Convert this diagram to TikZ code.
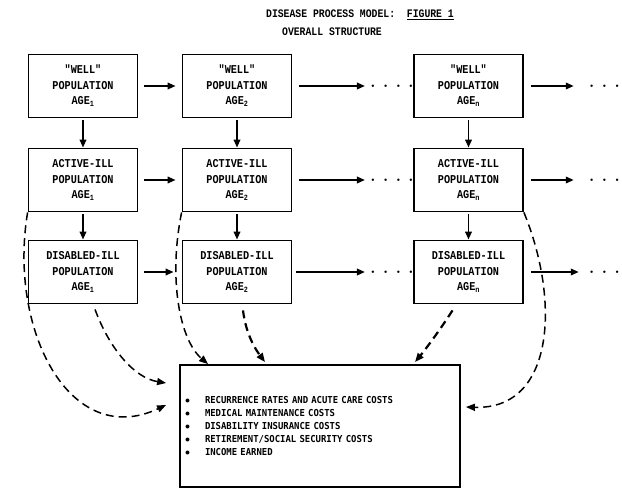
\documentclass[tikz,border=0pt]{standalone}
\usepackage{fontspec}
\usetikzlibrary{arrows.meta,positioning}
\newfontfamily\typefont[FakeStretch=0.85]{Liberation Mono}
\newfontfamily\listfont[FakeStretch=0.93]{DejaVu Sans Mono}
\newcommand\popfont{\typefont\bfseries\fontsize{12}{15.5}\selectfont}
\newcommand\headfont{\typefont\bfseries\fontsize{11.5}{14}\selectfont}
\newcommand\costfont{\listfont\bfseries\fontsize{9.6}{12.8}\selectfont}
\newcommand\dotgap{\hspace{9pt}}
\newcommand\dt{$\bullet$}
\begin{document}
\begin{tikzpicture}[x=1pt,y=-1pt,node distance=154pt,
	popbox/.style={draw,line width=1.8pt,minimum width=109pt,minimum height=63pt,inner sep=0pt,align=center,font=\popfont},
	costbox/.style={draw,line width=1.8pt,minimum width=280pt,minimum height=122pt,inner sep=5pt,text width=270pt,align=left,font=\costfont},
	dotrow/.style={inner sep=0pt,font=\fontsize{5.5}{6}\selectfont},
	flow/.style={line width=1.9pt,-{Triangle[length=8pt,width=6.5pt]}},
	costflow/.style={line width=1.5pt,dash pattern=on 8pt off 5pt,-{Triangle[length=9pt,width=7pt]}}]
		\useasboundingbox (0,0) rectangle (622,488);
		\node (title) [font=\headfont] at (360,15) {DISEASE PROCESS MODEL:\ \ \underline{FIGURE 1}};
		\node (subtitle) [font=\headfont,below of=title,node distance=17pt,xshift=-28pt] {OVERALL STRUCTURE};
		\node (w1) [popbox] at (83,86) {"WELL"\\POPULATION\\AGE\textsubscript{1}};
		\node (w2) [popbox,right of=w1] {"WELL"\\POPULATION\\AGE\textsubscript{2}};
		\node (wn) [popbox,right of=w2,node distance=231.5pt] {"WELL"\\POPULATION\\AGE\textsubscript{n}};
		\node (a1) [popbox,below of=w1,node distance=94pt] {ACTIVE-ILL\\POPULATION\\AGE\textsubscript{1}};
		\node (a2) [popbox,right of=a1] {ACTIVE-ILL\\POPULATION\\AGE\textsubscript{2}};
		\node (an) [popbox,right of=a2,node distance=231.5pt] {ACTIVE-ILL\\POPULATION\\AGE\textsubscript{n}};
		\node (d1) [popbox,below of=a1,node distance=92pt] {DISABLED-ILL\\POPULATION\\AGE\textsubscript{1}};
		\node (d2) [popbox,right of=d1] {DISABLED-ILL\\POPULATION\\AGE\textsubscript{2}};
		\node (dn) [popbox,right of=d2,node distance=231.5pt] {DISABLED-ILL\\POPULATION\\AGE\textsubscript{n}};
		\node (wdots) [dotrow,right of=w2,node distance=155pt] {\dt\dotgap\dt\dotgap\dt\dotgap\dt};
		\node (adots) [dotrow,right of=a2,node distance=155pt] {\dt\dotgap\dt\dotgap\dt\dotgap\dt};
		\node (ddots) [dotrow,right of=d2,node distance=155pt] {\dt\dotgap\dt\dotgap\dt\dotgap\dt};
		\node (wend) [dotrow,right of=wn,node distance=136pt] {\dt\dotgap\dt\dotgap\dt};
		\node (aend) [dotrow,right of=an,node distance=136pt] {\dt\dotgap\dt\dotgap\dt};
		\node (dend) [dotrow,right of=dn,node distance=136pt] {\dt\dotgap\dt\dotgap\dt};
		\node (costs) [costbox] at (320,426) {%
			\makebox[20pt][l]{$\bullet$}RECURRENCE RATES AND ACUTE CARE COSTS\\
			\makebox[20pt][l]{$\bullet$}MEDICAL MAINTENANCE COSTS\\
			\makebox[20pt][l]{$\bullet$}DISABILITY INSURANCE COSTS\\
			\makebox[20pt][l]{$\bullet$}RETIREMENT/SOCIAL SECURITY COSTS\\
			\makebox[20pt][l]{$\bullet$}INCOME EARNED};
		% ageing: one column to the next
		\draw[flow,shorten <=6pt,shorten >=6pt] (w1) -- (w2);
		\draw[flow,shorten <=6pt,shorten >=6pt] (a1) -- (a2);
		\draw[flow,shorten <=6pt,shorten >=8pt] (d1) -- (d2);
		\draw[flow,shorten <=7pt,shorten >=6pt] (w2) -- (wdots);
		\draw[flow,shorten <=7pt,shorten >=6pt] (a2) -- (adots);
		\draw[flow,shorten <=4pt,shorten >=6pt] (d2) -- (ddots);
		\draw[flow,shorten <=7pt,shorten >=16pt] (wn) -- (wend);
		\draw[flow,shorten <=7pt,shorten >=16pt] (an) -- (aend);
		\draw[flow,shorten <=7pt,shorten >=11pt] (dn) -- (dend);
		% falling ill
		\draw[flow,shorten <=2pt] (w1) -- (a1);
		\draw[flow,shorten <=2pt] (w2) -- (a2);
		\draw[flow,shorten <=2pt] (wn) -- (an);
		\draw[flow,shorten <=2pt] (a1) -- (d1);
		\draw[flow,shorten <=2pt] (a2) -- (d2);
		\draw[flow,shorten <=2pt] (an) -- (dn);
		% costs
		\draw[costflow] (a1.south west) .. controls (8,330) and (70,450) .. ([xshift=-13pt,yshift=21pt]costs.west);
		\draw[costflow] ([xshift=12pt,yshift=-5pt]d1.south) .. controls (110,350) and (135,378) .. ([xshift=-13pt,yshift=43pt]costs.west);
		\draw[costflow] (a2.south west) .. controls (168,280) and (180,340) .. ([xshift=-112pt]costs.north);
		\draw[costflow,line width=2.2pt] ([xshift=6pt,yshift=-6pt]d2.south) .. controls (246,335) and (256,350) .. ([xshift=-55pt,yshift=2pt]costs.north);
		\draw[costflow,line width=2.2pt] ([xshift=-16pt,yshift=-6pt]dn.south) .. controls (440,330) and (425,350) .. ([xshift=95pt,yshift=2pt]costs.north);
		\draw[costflow] (an.south east) .. controls (560,300) and (555,410) .. ([xshift=5pt,yshift=19pt]costs.east);
\end{tikzpicture}
\end{document}
